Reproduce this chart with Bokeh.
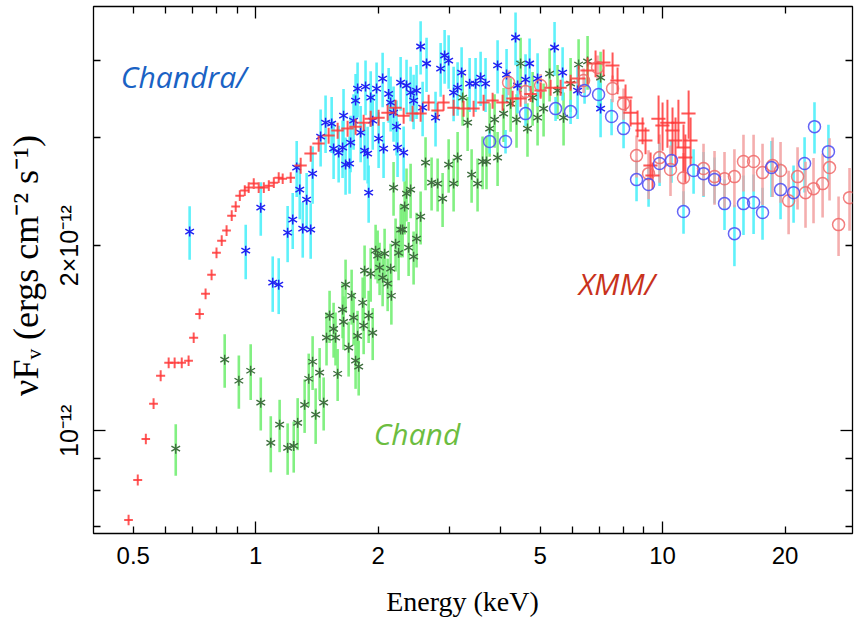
import numpy as np
from bokeh.plotting import figure
from bokeh.models import LogAxis, FixedTicker, CustomJSTickFormatter, Label
from bokeh.embed import file_html
from bokeh.resources import INLINE

UNIT = 1e-12  # fluxes below are in units of 1e-12 erg cm^-2 s^-1

# ---------------- XMM (red crosses: energy bin half-width + flux error) ----------------
xmm_e = [0.487, 0.513, 0.537, 0.561, 0.584, 0.611, 0.632, 0.658, 0.684, 0.704, 0.728, 0.753,
         0.779, 0.801, 0.825, 0.848, 0.873, 0.893, 0.914, 0.940, 0.961, 0.989, 1.017, 1.047,
         1.077, 1.108, 1.139, 1.165, 1.219, 1.290, 1.365, 1.428, 1.511, 1.590, 1.682, 1.760,
         1.842, 1.917, 2.005, 2.110, 2.207, 2.310, 2.430, 2.543, 2.661, 2.800, 2.896, 3.065,
         3.243, 3.432, 3.632, 3.822, 4.044, 4.280, 4.478, 4.739, 5.015, 5.307, 5.616, 5.943,
         6.218, 6.542, 6.844, 7.162, 7.536, 7.752, 8.110, 8.345, 8.681, 8.931, 9.082, 9.345,
         9.450, 9.777, 10.00, 10.28, 10.58, 10.76, 10.94, 11.26, 11.59, 11.72, 11.38]
xmm_f = [0.716, 0.832, 0.970, 1.107, 1.229, 1.290, 1.290, 1.290, 1.300, 1.417, 1.549, 1.670,
         1.793, 1.947, 2.038, 2.116, 2.238, 2.315, 2.412, 2.458, 2.486, 2.523, 2.486, 2.486,
         2.504, 2.532, 2.580, 2.570, 2.580, 2.699, 2.823, 2.931, 3.020, 3.077, 3.100, 3.123,
         3.170, 3.218, 3.230, 3.291, 3.353, 3.254, 3.279, 3.279, 3.417, 3.316, 3.417, 3.353,
         3.341, 3.341, 3.417, 3.443, 3.417, 3.469, 3.469, 3.530, 3.574, 3.614, 3.614, 3.683,
         3.739, 3.852, 3.956, 3.971, 3.927, 3.711, 3.482, 3.291, 3.159, 3.077, 2.964, 2.699,
         2.600, 3.218, 3.135, 3.170, 3.077, 2.964, 3.170, 2.887, 3.279, 2.964, 2.781]
xmm_de = [0.012, 0.013, 0.013, 0.014, 0.015, 0.015, 0.016, 0.016, 0.017, 0.018, 0.018, 0.019,
          0.019, 0.020, 0.021, 0.021, 0.022, 0.022, 0.023, 0.024, 0.024, 0.025, 0.025, 0.026,
          0.027, 0.028, 0.028, 0.029, 0.030, 0.045, 0.048, 0.050, 0.053, 0.056, 0.059, 0.062,
          0.064, 0.067, 0.070, 0.074, 0.077, 0.081, 0.085, 0.089, 0.093, 0.098, 0.101, 0.107,
          0.114, 0.120, 0.127, 0.134, 0.142, 0.150, 0.157, 0.166, 0.176, 0.186, 0.197, 0.208,
          0.249, 0.262, 0.274, 0.286, 0.301, 0.310, 0.324, 0.334, 0.347, 0.357, 0.363, 0.374,
          0.378, 0.391, 0.400, 0.411, 0.423, 0.430, 0.438, 0.450, 0.464, 0.469, 0.455]
xmm_df = [0.014, 0.017, 0.019, 0.022, 0.025, 0.026, 0.026, 0.026, 0.026, 0.028, 0.031, 0.033,
          0.036, 0.039, 0.041, 0.042, 0.045, 0.046, 0.048, 0.049, 0.050, 0.050, 0.050, 0.050,
          0.050, 0.051, 0.052, 0.051, 0.052, 0.081, 0.085, 0.088, 0.091, 0.092, 0.093, 0.094,
          0.095, 0.097, 0.097, 0.099, 0.101, 0.098, 0.098, 0.098, 0.103, 0.099, 0.103, 0.101,
          0.100, 0.100, 0.103, 0.103, 0.103, 0.104, 0.104, 0.106, 0.107, 0.108, 0.108, 0.110,
          0.187, 0.193, 0.198, 0.199, 0.196, 0.186, 0.174, 0.165, 0.158, 0.154, 0.148, 0.135,
          0.130, 0.290, 0.282, 0.285, 0.277, 0.267, 0.285, 0.260, 0.295, 0.267, 0.250]

# ---------------- XMM (red open circles) ----------------
xmmc_e = [4.184, 4.605, 5.015, 6.396, 6.922, 7.536, 8.020, 8.631, 9.239, 9.833, 10.46, 11.26,
          12.61, 13.42, 14.20, 15.02, 15.81, 16.74, 17.61, 18.64, 19.50, 20.41, 21.47, 22.46,
          23.50, 24.74, 25.73, 27.08, 28.81]
xmmc_f = [3.683, 3.562, 3.643, 3.711, 3.897, 3.602, 3.404, 2.802, 2.619, 2.781, 2.659, 2.580,
          2.669, 2.590, 2.570, 2.590, 2.740, 2.740, 2.629, 2.699, 2.649, 2.367, 2.590, 2.439,
          2.476, 2.523, 2.679, 2.164, 2.394]
xmmc_df = [0.17, 0.16, 0.16, 0.17, 0.18, 0.18, 0.20, 0.22, 0.24, 0.25, 0.25, 0.25,
           0.26, 0.26, 0.27, 0.28, 0.29, 0.29, 0.30, 0.30, 0.30, 0.28, 0.30, 0.30,
           0.30, 0.30, 0.31, 0.24, 0.28]

# ---------------- Chandra (blue asterisks) ----------------
cha_e = [0.688, 0.945, 1.029, 1.101, 1.139, 1.198, 1.233, 1.305, 1.365, 1.283, 1.334, 1.380,
         1.261, 1.444, 1.485, 1.537, 1.554, 1.599, 1.635, 1.663, 1.701, 1.644, 1.711, 1.760,
         1.740, 1.780, 1.862, 1.811, 1.852, 1.895, 1.884, 1.917, 1.982, 1.939, 2.005, 2.062,
         2.051, 2.122, 2.146, 2.182, 2.219, 2.232, 2.271, 2.310, 2.348, 2.403, 2.444, 2.485,
         2.543, 2.572, 2.630, 2.767, 2.848, 2.913, 2.980, 3.065, 3.135, 3.207, 3.356, 3.471,
         3.571, 3.672, 3.931, 4.136, 4.352, 4.402, 4.605, 4.712, 4.930, 5.427, 5.680, 6.182,
         7.042]
cha_f = [2.108, 1.963, 2.306, 1.741, 1.728, 2.100, 2.205, 2.132, 2.124, 2.467, 2.376, 2.619,
         2.679, 3.009, 3.170, 3.159, 2.877, 2.834, 2.887, 2.709, 2.720, 3.254, 2.942, 3.443,
         3.194, 3.602, 3.629, 3.054, 2.855, 2.439, 2.823, 3.482, 3.602, 3.194, 2.986, 2.877,
         3.739, 3.530, 3.417, 3.291, 3.123, 2.887, 3.683, 2.834, 3.643, 3.548, 3.443, 3.574,
         4.216, 3.353, 3.956, 3.230, 3.882, 4.076, 3.999, 3.548, 3.614, 3.824, 3.668, 3.668,
         3.753, 3.668, 3.927, 3.795, 4.360, 3.643, 3.725, 3.956, 3.739, 4.200, 3.824, 3.574,
         3.341]
cha_df = [0.21, 0.20, 0.23, 0.18, 0.18, 0.22, 0.23, 0.22, 0.22, 0.26, 0.25, 0.28,
          0.28, 0.32, 0.34, 0.33, 0.31, 0.30, 0.31, 0.29, 0.29, 0.34, 0.31, 0.36,
          0.33, 0.37, 0.37, 0.32, 0.30, 0.26, 0.30, 0.36, 0.37, 0.33, 0.31, 0.30,
          0.38, 0.36, 0.35, 0.34, 0.32, 0.30, 0.37, 0.29, 0.37, 0.36, 0.35, 0.36,
          0.42, 0.34, 0.40, 0.33, 0.39, 0.41, 0.40, 0.36, 0.36, 0.38, 0.37, 0.37,
          0.38, 0.37, 0.39, 0.38, 0.43, 0.36, 0.37, 0.39, 0.37, 0.42, 0.38, 0.36,
          0.34]

# ---------------- Chandra (blue open circles) ----------------
chc_e = [3.758, 4.112, 4.605, 5.458, 5.943, 6.432, 6.962, 7.494, 8.020, 8.631, 9.239, 9.833,
         10.52, 11.26, 11.92, 12.61, 13.42, 14.20, 15.02, 15.81, 16.74, 17.61, 18.53, 19.50,
         20.99, 22.34, 23.63, 25.57]
chc_f = [2.953, 2.953, 3.279, 3.341, 3.304, 3.574, 3.522, 3.243, 3.100, 2.561, 2.514, 2.720,
         2.750, 2.272, 2.649, 2.619, 2.561, 2.341, 2.092, 2.341, 2.350, 2.264, 2.679, 2.467,
         2.439, 2.720, 3.123, 2.844]
chc_df = [0.13, 0.13, 0.15, 0.15, 0.15, 0.17, 0.20, 0.22, 0.22, 0.20, 0.20, 0.22,
          0.22, 0.18, 0.22, 0.22, 0.22, 0.22, 0.24, 0.26, 0.26, 0.22, 0.28, 0.26,
          0.26, 0.28, 0.30, 0.30]

# ---------------- Chandra (green asterisks) ----------------
chg_e = [0.636, 0.839, 0.909, 0.972, 1.029, 1.089, 1.145, 1.198, 1.240, 1.268, 1.319, 1.350,
         1.380, 1.404, 1.436, 1.469, 1.493, 1.519, 1.554, 1.571, 1.590, 1.635, 1.644, 1.663,
         1.692, 1.721, 1.740, 1.760, 1.780, 1.791, 1.832, 1.842, 1.852, 1.895, 1.917, 1.939,
         1.971, 1.994, 2.016, 2.051, 2.074, 2.110, 2.146, 2.155, 2.182, 2.207, 2.245, 2.271,
         2.297, 2.323, 2.348, 2.376, 2.403, 2.444, 2.485, 2.543, 2.615, 2.706, 2.800, 2.880,
         2.980, 3.065, 3.135, 3.225, 3.318, 3.394, 3.510, 3.611, 3.692, 3.758, 3.865, 3.931,
         4.067, 4.232, 4.376, 4.478, 4.656, 4.793, 4.930, 5.100, 5.277, 5.519, 5.711, 5.943,
         6.218, 6.542, 7.042]
chg_f = [0.935, 1.305, 1.206, 1.252, 1.111, 0.956, 1.023, 0.938, 0.945, 1.030, 1.102, 1.215,
         1.295, 1.062, 1.243, 1.111, 1.417, 1.539, 1.465, 1.417, 1.238, 1.574, 1.504, 1.728,
         1.365, 1.658, 1.527, 1.300, 1.427, 1.271, 1.615, 1.482, 1.821, 1.539, 1.801, 1.443,
         1.963, 1.926, 1.842, 1.774, 1.941, 1.735, 1.835, 1.658, 2.486, 2.015, 1.947, 2.124,
         2.124, 2.315, 2.430, 1.985, 2.467, 1.919, 2.053, 2.229, 2.730, 2.532, 2.523, 2.385,
         2.709, 2.523, 2.781, 3.482, 3.170, 2.609, 2.523, 2.740, 2.740, 3.100, 3.206, 2.781,
         3.279, 3.404, 3.206, 3.956, 3.100, 3.482, 3.230, 3.341, 3.810, 3.574, 3.230, 3.668,
         3.941, 3.986, 3.753]
chg_df = [0.09, 0.13, 0.12, 0.13, 0.11, 0.10, 0.10, 0.09, 0.09, 0.10, 0.11, 0.12,
          0.13, 0.11, 0.12, 0.11, 0.14, 0.15, 0.15, 0.14, 0.12, 0.16, 0.15, 0.17,
          0.14, 0.17, 0.15, 0.13, 0.14, 0.13, 0.16, 0.15, 0.18, 0.15, 0.18, 0.14,
          0.20, 0.19, 0.18, 0.18, 0.19, 0.17, 0.18, 0.17, 0.25, 0.20, 0.19, 0.21,
          0.21, 0.23, 0.24, 0.20, 0.25, 0.19, 0.21, 0.22, 0.27, 0.25, 0.25, 0.24,
          0.27, 0.25, 0.28, 0.35, 0.32, 0.26, 0.25, 0.27, 0.27, 0.31, 0.32, 0.28,
          0.33, 0.34, 0.32, 0.40, 0.31, 0.35, 0.32, 0.33, 0.38, 0.36, 0.32, 0.37,
          0.39, 0.40, 0.38]

# ---------------- axes ----------------
X_RANGE = (0.3993, 29.30)
Y_RANGE = (0.6807, 4.897)
X_LABELED = [0.5, 1, 2, 5, 10, 20]
X_LONG = [1, 10]
X_SHORT = [0.5, 0.6, 0.7, 0.8, 0.9, 2, 3, 4, 5, 6, 7, 8, 9, 20]
Y_LABELED = [1.0, 2.0]
Y_LABEL_TEXT = ["10\u207b\u00b9\u00b2", "2\u00d710\u207b\u00b9\u00b2"]
Y_LONG = [1.0]
Y_SHORT = [0.7, 0.8, 0.9, 2.0, 3.0, 4.0]

X_TITLE = "Energy (keV)\u00a0\u00a0\u00a0"
Y_TITLE = "\u00a0\u00a0\u03bdF\u1d65  (ergs cm\u207b\u00b2 s\u207b\u00b9)"

NOTE_CHANDRA = ("Chandra/", 0.466, 3.77, "#1a62c4")
NOTE_XMM = ("XMM/", 6.22, 1.734, "#c8321c")
NOTE_CHAND = ("Chand", 1.950, 0.989, "#6cbd40")


def arr(v):
    return np.array(v, dtype=float)


p = figure(width=855, height=627, x_axis_type="log", y_axis_type="log",
           x_range=X_RANGE, y_range=(Y_RANGE[0] * UNIT, Y_RANGE[1] * UNIT),
           output_backend="svg", toolbar_location=None,
           min_border_left=93, min_border_right=3, min_border_top=6, min_border_bottom=94)
p.grid.visible = False
p.outline_line_color = "black"
p.outline_line_width = 1.3
p.background_fill_color = "white"
p.border_fill_color = "white"

empty = CustomJSTickFormatter(code="return '';")


def tick_axis(ax, long_t, short_t, scale=1.0):
    ax.ticker = FixedTicker(ticks=[t * scale for t in long_t], minor_ticks=[t * scale for t in short_t])
    ax.major_tick_in = 12
    ax.major_tick_out = 0
    ax.minor_tick_in = 7
    ax.minor_tick_out = 0
    ax.major_tick_line_width = 1.3
    ax.minor_tick_line_width = 1.3
    ax.major_tick_line_color = "black"
    ax.minor_tick_line_color = "black"
    ax.axis_line_color = None
    ax.formatter = empty
    ax.major_label_standoff = 0
    ax.major_label_text_font_size = "0px"


# inner tick-only axes
tick_axis(p.xaxis[0], X_LONG, X_SHORT)
tick_axis(p.yaxis[0], Y_LONG, Y_SHORT, UNIT)
top = LogAxis()
tick_axis(top, X_LONG, X_SHORT)
p.add_layout(top, "above")
right = LogAxis()
tick_axis(right, Y_LONG, Y_SHORT, UNIT)
p.add_layout(right, "right")

# outer label axes
xl = LogAxis(ticker=FixedTicker(ticks=X_LABELED, minor_ticks=[]),
             formatter=CustomJSTickFormatter(code="return tick.toString();"))
xl.major_tick_in = 0
xl.major_tick_out = 0
xl.minor_tick_in = 0
xl.minor_tick_out = 0
xl.axis_line_color = None
xl.major_label_standoff = 13
xl.major_label_text_font = "Liberation Sans"
xl.major_label_text_font_size = "24px"
xl.major_label_text_color = "black"
xl.axis_label = X_TITLE
xl.axis_label_text_font = "Liberation Serif"
xl.axis_label_text_font_style = "normal"
xl.axis_label_text_font_size = "28px"
xl.axis_label_text_color = "black"
xl.axis_label_standoff = 19
p.add_layout(xl, "below")

yl = LogAxis(ticker=FixedTicker(ticks=[t * UNIT for t in Y_LABELED], minor_ticks=[]),
             formatter=CustomJSTickFormatter(args=dict(vals=[t * UNIT for t in Y_LABELED], labs=Y_LABEL_TEXT),
                                             code="""
for (let i = 0; i < vals.length; i++) {
  if (Math.abs(tick - vals[i]) < 1e-3 * vals[i]) return labs[i];
}
return '';
"""))
yl.major_tick_in = 0
yl.major_tick_out = 0
yl.minor_tick_in = 0
yl.minor_tick_out = 0
yl.axis_line_color = None
yl.major_label_orientation = "vertical"
yl.major_label_standoff = 10
yl.major_label_text_font = "Liberation Sans"
yl.major_label_text_font_size = "25px"
yl.major_label_text_color = "black"
yl.axis_label = Y_TITLE
yl.axis_label_text_font = "Liberation Serif"
yl.axis_label_text_font_style = "normal"
yl.axis_label_text_font_size = "36px"
yl.axis_label_text_color = "black"
yl.axis_label_standoff = 7
p.add_layout(yl, "left")

# ---------------- data ----------------
xe, xf, xde, xdf = arr(xmm_e), arr(xmm_f) * UNIT, arr(xmm_de), arr(xmm_df) * UNIT
ce, cf, cdf = arr(cha_e), arr(cha_f) * UNIT, arr(cha_df) * UNIT
ge, gf, gdf = arr(chg_e), arr(chg_f) * UNIT, arr(chg_df) * UNIT
rce, rcf, rcdf = arr(xmmc_e), arr(xmmc_f) * UNIT, arr(xmmc_df) * UNIT
bce, bcf, bcdf = arr(chc_e), arr(chc_f) * UNIT, arr(chc_df) * UNIT

# error bars
p.segment(ge, gf - gdf, ge, gf + gdf, line_color="#74ee74", line_width=2.6, line_alpha=0.9)
p.segment(ce, cf - cdf, ce, cf + cdf, line_color="#4ef0fa", line_width=2.6, line_alpha=0.9)
p.segment(bce, bcf - bcdf, bce, bcf + bcdf, line_color="#4ef0fa", line_width=2.6, line_alpha=0.9)
p.segment(rce, rcf - rcdf, rce, rcf + rcdf, line_color="#f2a0a0", line_width=2.6, line_alpha=0.85)

# stars (6-armed asterisks)
for ang in (np.pi / 2, np.pi / 6, -np.pi / 6):
    p.scatter(ge, gf, marker="dash", angle=ang, size=10, line_color="#3f6e3f", line_width=1.4)
for ang in (np.pi / 2, np.pi / 6, -np.pi / 6):
    p.scatter(ce, cf, marker="dash", angle=ang, size=10, line_color="#2222f2", line_width=1.5)

# XMM crosses
p.segment(xe - xde, xf, xe + xde, xf, line_color="#ff3a3a", line_width=2, line_alpha=0.85)
p.segment(xe, xf - xdf, xe, xf + xdf, line_color="#ff3a3a", line_width=2, line_alpha=0.85)

# open circles
p.scatter(rce, rcf, marker="circle", size=12, fill_color=None, line_color="#f06868", line_width=1.5, line_alpha=0.85)
p.scatter(bce, bcf, marker="circle", size=12, fill_color=None, line_color="#4a4af4", line_width=1.5, line_alpha=0.85)

# annotations
for txt, ex, fy, col in (NOTE_CHANDRA, NOTE_XMM, NOTE_CHAND):
    p.add_layout(Label(x=ex, y=fy * UNIT, text=txt, text_font="Open Sans", text_font_style="italic",
                       text_font_size="30px", text_color=col, text_baseline="alphabetic"))

open("out.html", "w").write(file_html(p, INLINE))
